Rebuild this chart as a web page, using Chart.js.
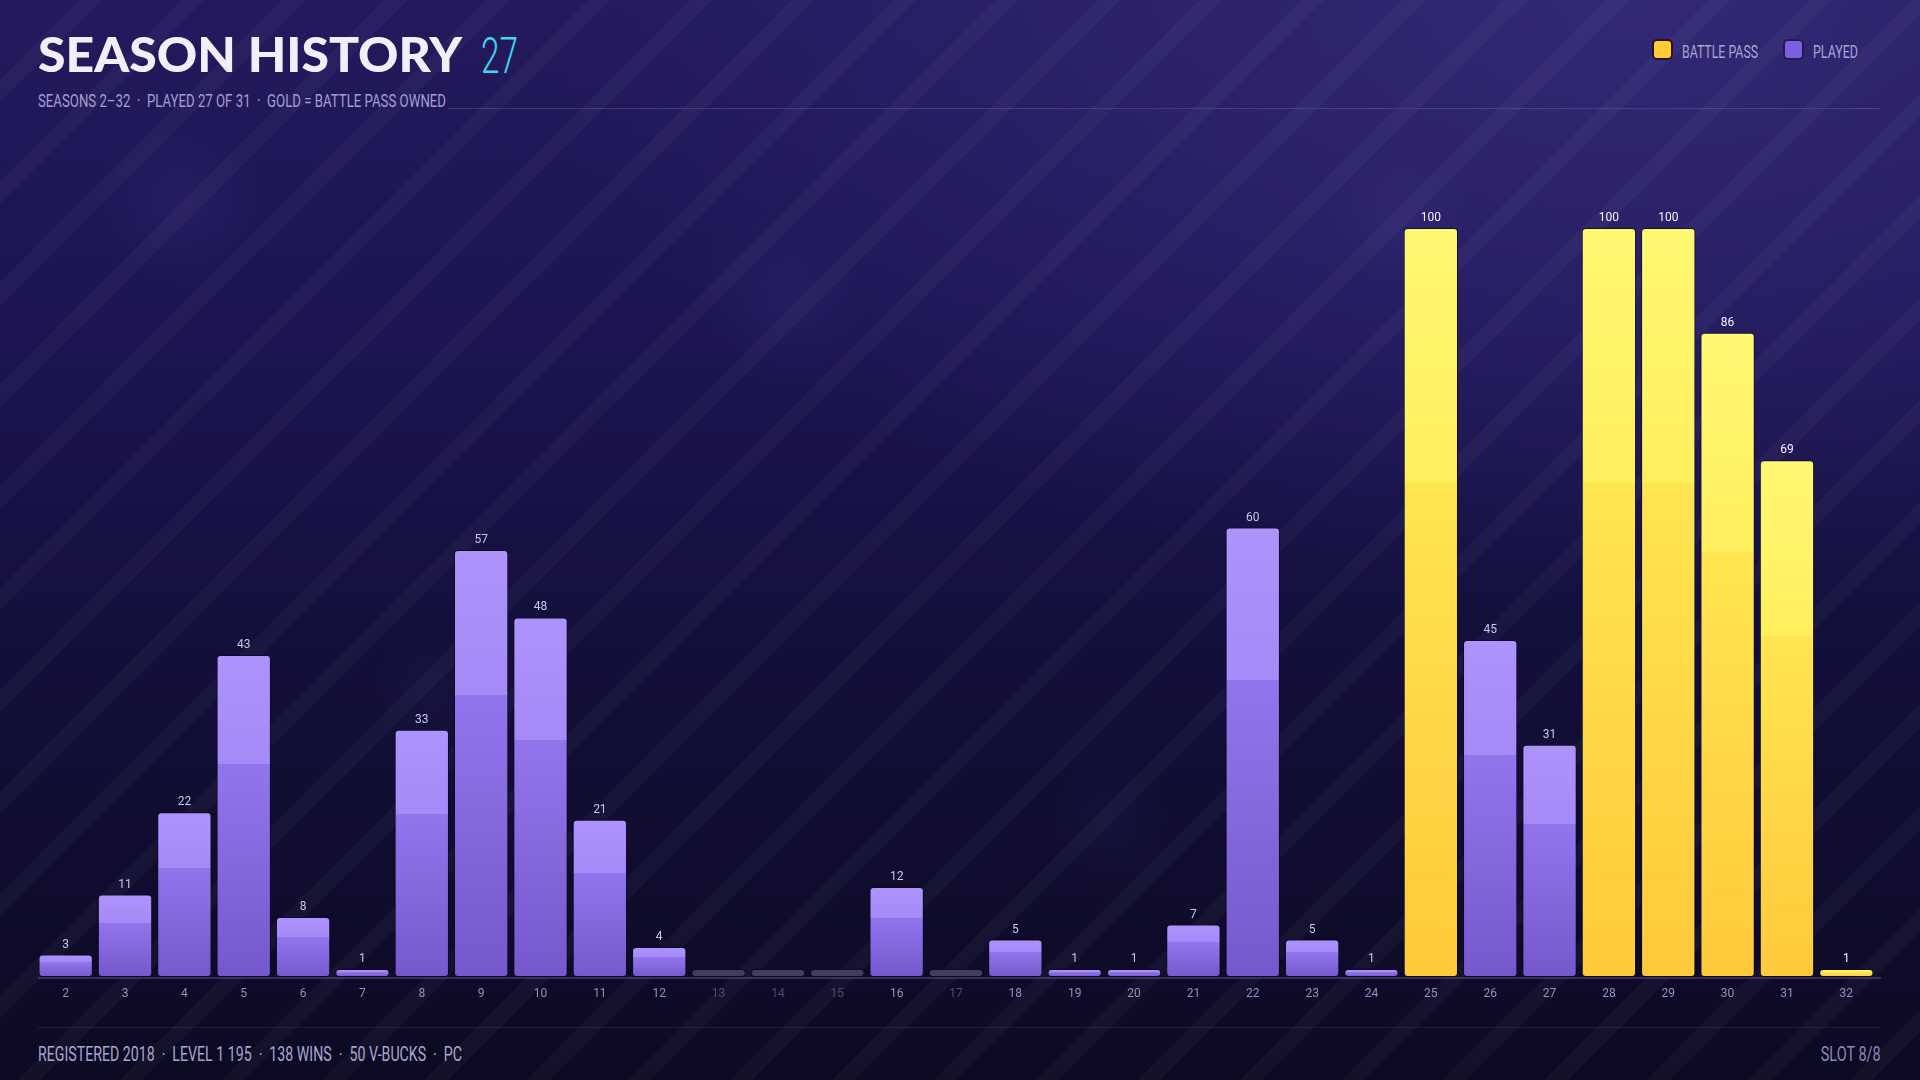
<!DOCTYPE html>
<html><head><meta charset="utf-8">
<script src="https://cdn.jsdelivr.net/npm/chart.js@4.4.1/dist/chart.umd.min.js"></script>
<style>
html,body{margin:0;padding:0;width:1920px;height:1080px;overflow:hidden;}
body{position:relative;background:
 radial-gradient(circle at 180px 205px, rgba(150,130,255,0.06) 0, rgba(150,130,255,0) 85px),
 radial-gradient(circle at 780px 300px, rgba(150,130,255,0.05) 0, rgba(150,130,255,0) 90px),
 radial-gradient(circle at 1110px 830px, rgba(150,130,255,0.04) 0, rgba(150,130,255,0) 70px),
 radial-gradient(circle at 1400px 215px, rgba(150,130,255,0.05) 0, rgba(150,130,255,0) 70px),
 radial-gradient(circle at 430px 690px, rgba(150,130,255,0.035) 0, rgba(150,130,255,0) 60px),
 repeating-linear-gradient(135deg, rgba(255,255,255,0) 0px, rgba(255,255,255,0) 56px, rgba(255,255,255,0.03) 56px, rgba(255,255,255,0.03) 72px),
 radial-gradient(ellipse 1100px 600px at 85% 0%, rgba(52,42,120,0.9) 0%, rgba(52,42,120,0) 100%),
 linear-gradient(180deg,#221a5c 0%,#1c1552 30%,#130f3b 60%,#0c0a22 100%);
}
.t{position:absolute;white-space:nowrap;line-height:1;transform-origin:0 0;}
#title{left:38px;top:31px;font-family:'Lato','Inter',sans-serif;font-weight:900;font-size:47px;color:#f1effb;}
#num{left:481px;top:31px;font-family:'Roboto',sans-serif;font-weight:300;font-size:50px;color:#3fd4ef;}
#sub{left:38px;top:92px;font-family:'Roboto',sans-serif;font-size:18px;color:#a49ecf;}
#foot{left:38px;top:1044px;font-family:'Roboto',sans-serif;font-size:20px;color:#aaa4d0;}
#slot{right:39px;top:1044px;font-family:'Roboto',sans-serif;font-size:20px;color:#8d87b5;transform-origin:100% 0;}
.lg{top:42px;font-family:'Roboto',sans-serif;font-size:19px;color:#aaa4d2;}
.sw{position:absolute;top:39px;width:21px;height:21px;border-radius:5px;box-sizing:border-box;}
.line{position:absolute;height:1px;}
canvas{position:absolute;left:0;top:0;}
</style></head>
<body>
<div id="title" class="t">SEASON HISTORY</div>
<div id="num" class="t">27</div>
<div id="sub" class="t">SEASONS 2–32 &nbsp;·&nbsp; PLAYED 27 OF 31 &nbsp;·&nbsp; GOLD = BATTLE PASS OWNED</div>
<div class="line" style="left:448px;top:108px;width:1433px;background:rgba(255,255,255,0.13);"></div>
<div class="sw" style="left:1652px;background:#ffcc33;border:2px solid #2b0f22;"></div>
<div id="lg1" class="t lg" style="left:1682px;">BATTLE PASS</div>
<div class="sw" style="left:1783px;background:#7b5fdf;border:2px solid #241a55;"></div>
<div id="lg2" class="t lg" style="left:1813px;">PLAYED</div>
<div class="line" style="left:38px;top:1027px;width:1843px;background:rgba(255,255,255,0.08);"></div>
<div id="foot" class="t">REGISTERED 2018 &nbsp;·&nbsp; LEVEL 1 195 &nbsp;·&nbsp; 138 WINS &nbsp;·&nbsp; 50 V-BUCKS &nbsp;·&nbsp; PC</div>
<div id="slot" class="t">SLOT 8/8</div>
<canvas id="c" width="1920" height="1080"></canvas>
<script>
const seasons = ['2','3','4','5','6','7','8','9','10','11','12','13','14','15','16','17','18','19','20','21','22','23','24','25','26','27','28','29','30','31','32'];
const levels = [3,11,22,43,8,1,33,57,48,21,4,0,0,0,12,0,5,1,1,7,60,5,1,100,45,31,100,100,86,69,1];
const battlePassSeasons = ['25','28','29','30','31','32'];
const unplayedSeasons = ['13','14','15','17'];
const yMax = 100;

function fit(id, w){
  const el = document.getElementById(id);
  el.style.transform = 'none';
  const r = el.getBoundingClientRect().width;
  el.style.transform = 'scaleX(' + (w / r) + ')';
}
function fitAll(){
  fit('title', 424); fit('num', 37); fit('sub', 408); fit('foot', 424);
  fit('slot', 60); fit('lg1', 76); fit('lg2', 45);
}
fitAll();
if (document.fonts && document.fonts.ready) document.fonts.ready.then(fitAll);

function barFill(ctx){
  if (ctx.type !== 'data') return '#9478ee';
  const chart = ctx.chart, i = ctx.dataIndex, s = seasons[i];
  if (unplayedSeasons.includes(s)) return 'rgba(72,67,98,0.9)';
  const gold = battlePassSeasons.includes(s);
  const y = chart.scales.y;
  if (!chart.chartArea || !y) return gold ? '#ffd84a' : '#9478ee';
  const top = y.getPixelForValue(levels[i]);
  const bot = y.getPixelForValue(0);
  if (!isFinite(top) || bot - top < 1) return gold ? '#ffd84a' : '#9478ee';
  const g = chart.ctx.createLinearGradient(0, top, 0, bot);
  if (gold){
    g.addColorStop(0, '#fff872'); g.addColorStop(0.34, '#ffef5e');
    g.addColorStop(0.34, '#ffe551'); g.addColorStop(1, '#ffc93b');
  } else {
    g.addColorStop(0, '#ae93fd'); g.addColorStop(0.34, '#a58af8');
    g.addColorStop(0.34, '#9274ec'); g.addColorStop(1, '#7558cd');
  }
  return g;
}

const baseline = {
  id: 'baseline',
  beforeDatasetsDraw(chart){
    const c = chart.ctx, b = chart.chartArea.bottom;
    c.save(); c.strokeStyle = 'rgba(110,100,160,0.4)'; c.lineWidth = 2;
    c.beginPath(); c.moveTo(38, b + 1); c.lineTo(1881, b + 1); c.stroke(); c.restore();
  }
};
const valueLabels = {
  id: 'valueLabels',
  afterDatasetsDraw(chart){
    const c = chart.ctx, meta = chart.getDatasetMeta(0);
    c.save(); c.textAlign = 'center'; c.textBaseline = 'alphabetic';
    c.font = '12px "Roboto", sans-serif';
    meta.data.forEach((bar, i) => {
      const v = levels[i];
      if (!v) return;
      c.fillStyle = battlePassSeasons.includes(seasons[i]) ? '#f4f2ff' : '#cbc4ea';
      c.fillText(String(v), bar.x, bar.y - 7);
    });
    c.restore();
  }
};

new Chart(document.getElementById('c'), {
  type: 'bar',
  data: {
    labels: seasons,
    datasets: [{
      data: levels,
      backgroundColor: barFill,
      borderColor: 'rgba(12,9,34,0.85)',
      borderWidth: 1,
      borderSkipped: false,
      borderRadius: 4,
      minBarLength: 8,
      categoryPercentage: 1,
      barPercentage: 0.915
    }]
  },
  options: {
    responsive: false,
    devicePixelRatio: 1,
    animation: false,
    layout: { padding: { left: 36, right: 44, top: 228, bottom: 63 } },
    plugins: { legend: { display: false }, tooltip: { enabled: false } },
    scales: {
      y: { display: false, min: 0, max: yMax },
      x: {
        grid: { display: false }, border: { display: false },
        afterFit(scale){ scale.height = 40; },
        ticks: {
          padding: 2,
          font: { family: 'Roboto', size: 12 },
          color: (c) => unplayedSeasons.includes(seasons[c.index]) ? '#4e4878' : '#958ec2'
        }
      }
    }
  },
  plugins: [baseline, valueLabels]
});
</script>
</body></html>
